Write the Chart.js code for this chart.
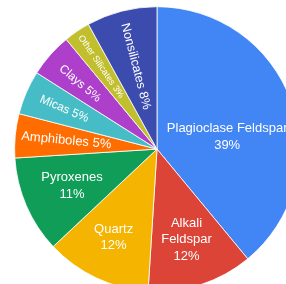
<!DOCTYPE html>
<html>
<head>
<meta charset="utf-8">
<script src="https://cdn.jsdelivr.net/npm/chart.js@4/dist/chart.umd.min.js"></script>
<style>
  html, body { margin: 0; padding: 0; background: #fff; }
  #wrap { position: relative; width: 286px; height: 284px; overflow: hidden; background: #fff; }
  #c { position: absolute; left: 0; top: -14px; }
</style>
</head>
<body>
<div id="wrap"><canvas id="c" width="314" height="306"></canvas></div>
<script>
const titleText = "Most Abundant Minerals in Earth's Crust";
const categories = ['Plagioclase Feldspar', 'Alkali Feldspar', 'Quartz', 'Pyroxenes', 'Amphiboles', 'Micas', 'Clays', 'Other Silicates', 'Nonsilicates'];
const percents = [39, 12, 12, 11, 5, 5, 5, 3, 8];

const sliceColors = ['#4285F4', '#DB4437', '#F4B400', '#0F9D58', '#FF6D01', '#46BDC6', '#AD3FCB', '#C1BF2E', '#3B4BAE'];
// label styling: radial fraction, angle shift (deg), font size, rotate along radius, wrap name
const labelStyle = [
  { frac: 0.50, shift: 10, size: 13, rotate: false, wrap: false },
  { frac: 0.67, shift: 0, size: 13, rotate: false, wrap: true },
  { frac: 0.69, shift: 1, size: 13, rotate: false, wrap: false },
  { frac: 0.65, shift: 0, size: 13, rotate: false, wrap: false },
  { frac: 0.64, shift: 0, size: 13, rotate: true, wrap: false },
  { frac: 0.71, shift: 0, size: 12, rotate: true, wrap: false },
  { frac: 0.71, shift: -1, size: 12, rotate: true, wrap: false },
  { frac: 0.70, shift: 0, size: 9, rotate: true, wrap: false },
  { frac: 0.60, shift: 0, size: 12.5, rotate: true, wrap: false }
];

const sliceLabels = {
  id: 'sliceLabels',
  afterDatasetsDraw(chart) {
    const ctx = chart.ctx;
    const meta = chart.getDatasetMeta(0);
    const values = chart.data.datasets[0].data;
    meta.data.forEach((arc, i) => {
      const p = arc.getProps(['x', 'y', 'startAngle', 'endAngle', 'outerRadius'], true);
      const st = labelStyle[i];
      const mid = (p.startAngle + p.endAngle) / 2 + st.shift * Math.PI / 180;
      const r = p.outerRadius * st.frac;
      const px = p.x + Math.cos(mid) * r;
      const py = p.y + Math.sin(mid) * r;
      const name = chart.data.labels[i];
      const pct = values[i] + '%';
      let lines;
      if (st.rotate) lines = [name + ' ' + pct];
      else if (st.wrap) lines = name.split(' ').concat([pct]);
      else lines = [name, pct];
      ctx.save();
      ctx.translate(px, py);
      if (st.rotate) ctx.rotate(mid + Math.PI);
      ctx.font = st.size + 'px "Liberation Sans", Arial, sans-serif';
      ctx.fillStyle = '#ffffff';
      ctx.textAlign = 'center';
      ctx.textBaseline = 'middle';
      const lh = 16.5;
      const y0 = -(lines.length - 1) * lh / 2;
      lines.forEach((ln, k) => ctx.fillText(ln, 0, y0 + k * lh));
      ctx.restore();
    });
  }
};

new Chart(document.getElementById('c'), {
  type: 'pie',
  data: {
    labels: categories,
    datasets: [{
      data: percents,
      backgroundColor: sliceColors,
      borderColor: 'rgba(255,255,255,0.8)',
      borderWidth: 1,
      hoverOffset: 0,
      offset: 0
    }]
  },
  options: {
    responsive: false,
    animation: false,
    layout: { padding: 0 },
    plugins: {
      legend: { display: false },
      tooltip: { enabled: false },
      title: {
        display: true,
        text: titleText,
        color: '#757575',
        font: { family: '"Liberation Sans", Arial, sans-serif', size: 16, weight: 'bold', lineHeight: 1.2 },
        padding: { top: 0, bottom: 1 }
      }
    }
  },
  plugins: [sliceLabels]
});
</script>
</body>
</html>
